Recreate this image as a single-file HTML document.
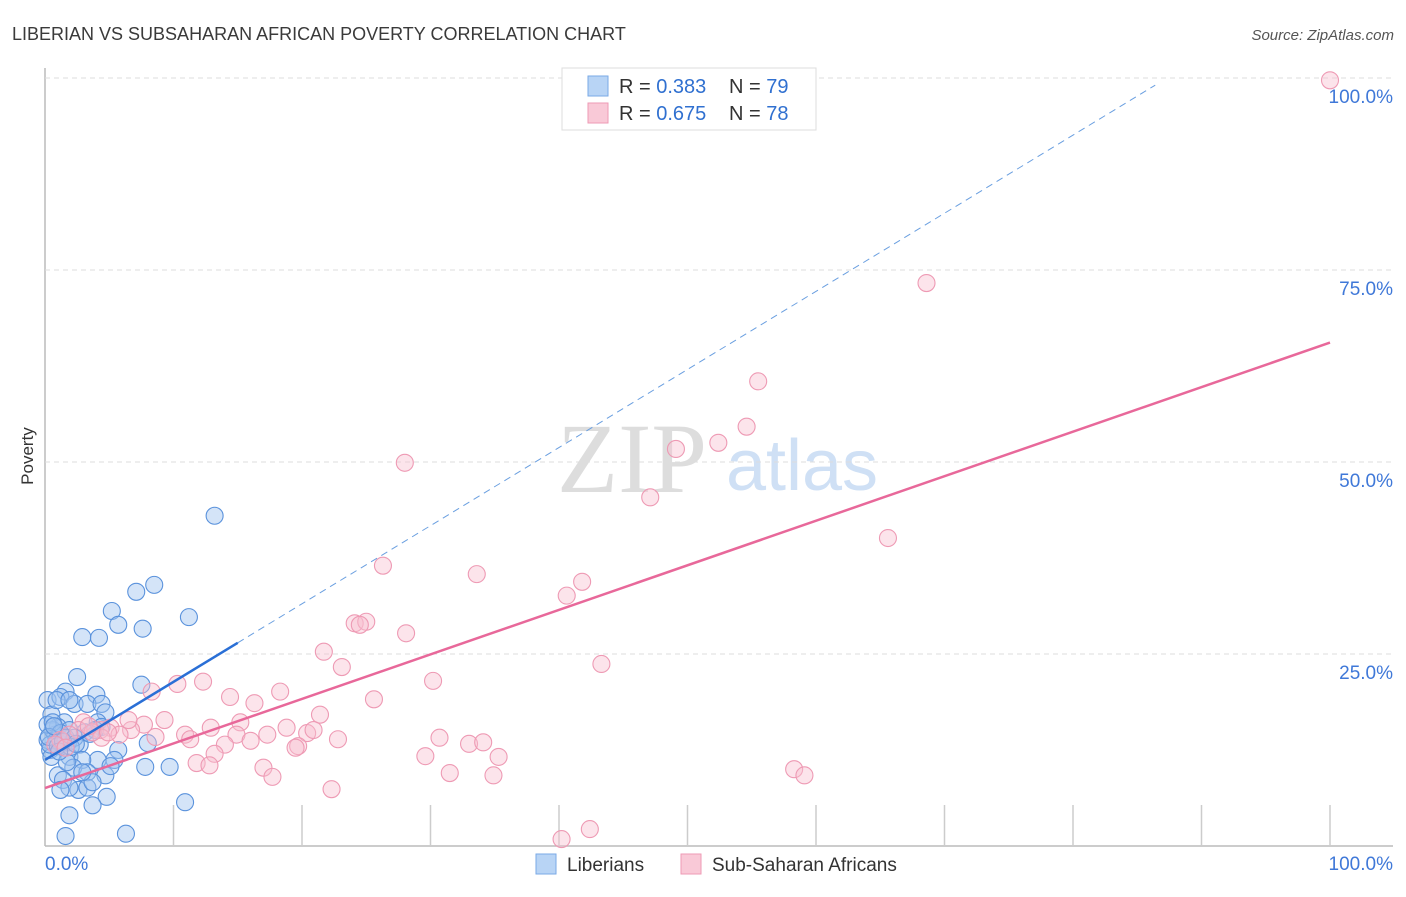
<!DOCTYPE html>
<html><head><meta charset="utf-8">
<style>
body{margin:0;background:#fff;font-family:"Liberation Sans",sans-serif;}
svg text{font-family:"Liberation Sans",sans-serif;}
</style></head>
<body>
<svg id="chart" width="1406" height="892" xmlns="http://www.w3.org/2000/svg">
<text x="12" y="40" font-size="18" fill="#3a3a3a">LIBERIAN VS SUBSAHARAN AFRICAN POVERTY CORRELATION CHART</text>
<text x="1394" y="40" font-size="15" fill="#555" font-style="italic" text-anchor="end">Source: ZipAtlas.com</text>
<text x="33" y="456" font-size="17" fill="#333" transform="rotate(-90 33 456)" text-anchor="middle">Poverty</text>
<g>
<text x="632" y="492" font-size="100" fill="#ddd" text-anchor="middle" style="font-family:'Liberation Serif',serif">ZIP</text>
<text x="802" y="490" font-size="72" fill="#cfe0f5" text-anchor="middle">atlas</text>
</g>
<g id="grid"></g>
<g id="marks"></g>
<g>
<rect x="562" y="68" width="254" height="62" fill="#fff" stroke="#ddd"/>
<rect x="588" y="76" width="20" height="20" fill="#b8d4f5" stroke="#7aaae6"/>
<rect x="588" y="103" width="20" height="20" fill="#f9c9d7" stroke="#ee9ab4"/>
<text x="619" y="93" font-size="20" fill="#333">R = <tspan fill="#3070d0">0.383</tspan></text>
<text x="729" y="93" font-size="20" fill="#333">N = <tspan fill="#3070d0">79</tspan></text>
<text x="619" y="120" font-size="20" fill="#333">R = <tspan fill="#3070d0">0.675</tspan></text>
<text x="729" y="120" font-size="20" fill="#333">N = <tspan fill="#3070d0">78</tspan></text>
</g>
<g>
<rect x="536" y="854" width="20" height="20" fill="#b8d4f5" stroke="#7aaae6"/>
<text x="567" y="871" font-size="19" fill="#333">Liberians</text>
<rect x="681" y="854" width="20" height="20" fill="#f9c9d7" stroke="#ee9ab4"/>
<text x="712" y="871" font-size="19" fill="#333">Sub-Saharan Africans</text>
</g>
</svg>
<script>
const yTicks=[25,50,75,100];
const yTickLabels=["25.0%","50.0%","75.0%","100.0%"];
const xTicks=[10,20,30,40,50,60,70,80,90,100];
const xEndLabels=["0.0%","100.0%"];
const blueX=[13.2,8.5,7.1,5.2,5.7,7.6,11.2,2.9,4.2,2.5,1.6,4.0,0.2,1.2,2.3,3.3,4.4,4.7,7.5,0.5,1.5,1.0,4.1,4.4,0.2,0.8,1.9,3.1,1.3,0.4,2.7,5.7,8.0,4.1,5.4,0.5,1.9,2.9,1.0,2.2,3.3,4.7,7.8,9.7,1.4,2.6,3.3,1.9,1.2,4.8,3.7,10.9,1.9,1.6,6.3,0.6,0.9,1.8,0.2,0.6,1.2,1.6,2.3,3.9,3.7,2.9,0.4,1.7,5.1,0.9,1.9,0.3,1.0,2.0,3.5,1.4,0.7,2.4,1.1];
const blueY=[43.0,34.0,33.1,30.6,28.8,28.3,29.8,27.2,27.1,22.0,20.1,19.7,19.0,19.4,18.5,18.5,18.5,17.4,21.0,17.1,16.1,15.5,16.1,15.5,13.8,14.5,15.1,14.8,13.2,12.5,13.2,12.5,13.4,11.2,11.2,11.6,11.6,11.2,9.2,10.2,9.6,9.2,10.3,10.3,8.6,7.3,7.6,7.6,7.3,6.4,5.3,5.7,4.0,1.3,1.6,15.1,13.8,13.5,15.8,16.1,14.7,14.1,14.1,15.1,8.3,9.6,13.2,10.9,10.4,19.0,19.0,14.2,13.0,12.9,14.6,13.6,15.6,13.3,12.3];
const pinkX=[100,68.6,55.5,54.6,52.4,49.1,47.1,28.0,65.6,26.3,33.6,41.8,40.6,24.1,25.0,24.5,28.1,21.7,43.3,23.1,30.2,8.3,10.3,12.3,18.3,14.4,16.3,25.6,21.4,15.2,9.3,7.7,6.7,5.1,4.3,3.0,2.6,8.6,10.9,11.3,12.9,14.9,17.3,18.8,20.4,20.9,22.8,16.0,14.0,19.7,19.5,30.7,33.0,34.1,35.3,29.6,13.2,11.8,12.8,17.0,17.7,31.5,34.9,58.3,59.1,22.3,40.2,42.4,4.4,5.8,1.2,1.9,3.7,0.8,1.6,6.5,4.9,3.4];
const pinkY=[99.7,73.3,60.5,54.6,52.5,51.7,45.4,49.9,40.1,36.5,35.4,34.4,32.6,29.0,29.2,28.8,27.7,25.3,23.7,23.3,21.5,20.1,21.1,21.4,20.1,19.4,18.6,19.1,17.1,16.1,16.4,15.8,15.1,15.4,15.1,16.1,15.1,14.2,14.5,13.9,15.4,14.5,14.5,15.4,14.7,15.1,13.9,13.7,13.2,13.0,12.8,14.1,13.3,13.5,11.6,11.7,12.0,10.8,10.5,10.2,9.0,9.5,9.2,10.0,9.2,7.4,0.9,2.2,14.1,14.5,13.8,14.5,14.8,13.2,12.8,16.4,14.8,15.6];
const blueTrend=[11.2,1.017];
const blueSolidEnd=15;
const pinkTrend=[7.55,0.58];
const NS="http://www.w3.org/2000/svg";
const sx=v=>45+v*12.85, sy=v=>846-v*7.68;
function mk(tag,attrs,parent){const e=document.createElementNS(NS,tag);for(const k in attrs)e.setAttribute(k,attrs[k]);parent.appendChild(e);return e;}
const grid=document.getElementById('grid'), marks=document.getElementById('marks');
const axL=mk('line',{x1:45,y1:68,x2:45,y2:846,stroke:'#bbb','stroke-width':1.5},grid);


const axB=mk('line',{x1:45,y1:846,x2:1393,y2:846,stroke:'#bbb','stroke-width':1.5},grid);


yTicks.forEach((t,i)=>{
 const g=mk('line',{x1:45,y1:sy(t),x2:1393,y2:sy(t),stroke:'#ddd','stroke-dasharray':'5,4'},grid);
 
 
 const tx=mk('text',{x:1393,y:sy(t)+25,'font-size':19,fill:'#3f78d8','text-anchor':'end'},grid);
 tx.textContent=yTickLabels[i];
 
 
});
xTicks.forEach(t=>{
 const l=mk('line',{x1:sx(t),y1:805,x2:sx(t),y2:846,stroke:'#ccc','stroke-width':1.5},grid);
 
 
});
[[0,'start',45],[1,'end',1393]].forEach(([i,a,x])=>{
 const tx=mk('text',{x:x,y:870,'font-size':19,fill:'#3f78d8','text-anchor':a},grid);
 tx.textContent=xEndLabels[i];
 
 
});
blueX.forEach((v,i)=>{
 const c=mk('circle',{cx:sx(v),cy:sy(blueY[i]),r:8.5,fill:'rgba(160,196,240,0.45)',stroke:'#5a92dc','stroke-width':1.1},marks);
 
 
});
pinkX.forEach((v,i)=>{
 const c=mk('circle',{cx:sx(v),cy:sy(pinkY[i]),r:8.5,fill:'rgba(248,190,208,0.42)',stroke:'#ee9ab4','stroke-width':1.1},marks);
 
 
});
const bd=mk('line',{x1:sx(blueSolidEnd),y1:sy(blueTrend[0]+blueTrend[1]*blueSolidEnd),x2:sx(86.4),y2:sy(blueTrend[0]+blueTrend[1]*86.4),stroke:'#6a9fe0','stroke-width':1,'stroke-dasharray':'7,5'},marks);


const bl=mk('line',{x1:sx(0),y1:sy(blueTrend[0]),x2:sx(blueSolidEnd),y2:sy(blueTrend[0]+blueTrend[1]*blueSolidEnd),stroke:'#2a6fd6','stroke-width':2.5},marks);


const pl=mk('line',{x1:sx(0),y1:sy(pinkTrend[0]),x2:sx(100),y2:sy(pinkTrend[0]+pinkTrend[1]*100),stroke:'#e8689a','stroke-width':2.5},marks);


</script>
</body></html>
